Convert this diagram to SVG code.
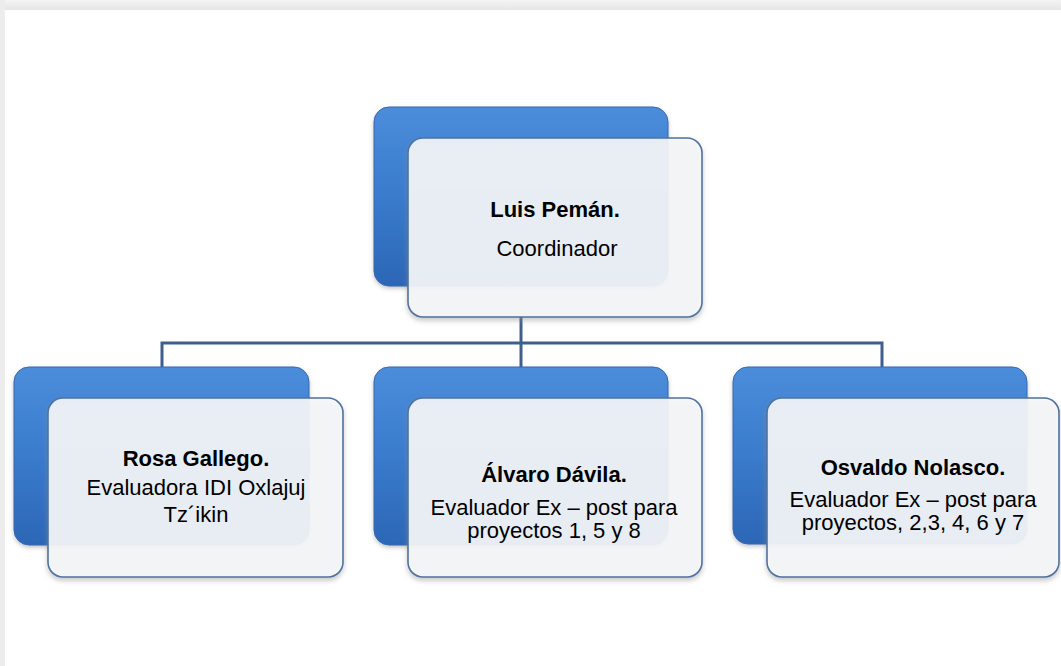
<svg xmlns="http://www.w3.org/2000/svg" width="1061" height="666" viewBox="0 0 1061 666">
  <defs>
    <linearGradient id="blueGrad" x1="0" y1="0" x2="0" y2="1">
      <stop offset="0" stop-color="#4b8ddb"/>
      <stop offset="0.5" stop-color="#3a7bcc"/>
      <stop offset="1" stop-color="#2c66b6"/>
    </linearGradient>
    <linearGradient id="topBand" x1="0" y1="0" x2="0" y2="1">
      <stop offset="0" stop-color="#f4f4f4"/>
      <stop offset="1" stop-color="#e6e6e6"/>
    </linearGradient>
    <filter id="cardShadow" x="-10%" y="-10%" width="120%" height="130%">
      <feDropShadow dx="0" dy="3" stdDeviation="2.5" flood-color="#8a8a8a" flood-opacity="0.5"/>
    </filter>
    <filter id="blueShadow" x="-10%" y="-10%" width="120%" height="130%">
      <feDropShadow dx="0" dy="2" stdDeviation="2" flood-color="#555" flood-opacity="0.35"/>
    </filter>
  </defs>
  <style>
    .blue { fill: url(#blueGrad); stroke: #3568b0; stroke-width: 1; filter: url(#blueShadow); }
    .card { fill: #f6f7f9; fill-opacity: 0.9; stroke: #4f72a0; stroke-width: 1.6; filter: url(#cardShadow); }
    .conn { fill: none; stroke: #3e5f8e; stroke-width: 3; }
    .t { font-family: "Liberation Sans", Arial, sans-serif; font-size: 22px; fill: #000; text-anchor: middle; }
    .b { font-weight: bold; }
  </style>

  <rect x="0" y="0" width="1061" height="666" fill="#ffffff"/>
  <rect x="0" y="0" width="1061" height="10" fill="url(#topBand)"/>
  <rect x="0" y="0" width="5" height="666" fill="#ececec"/>

  <g id="connectors">
    <path class="conn" d="M521 317 V343"/>
    <path class="conn" d="M162 367 V343 H882 V367"/>
    <path class="conn" d="M521 343 V367"/>
  </g>

  <g id="node-luis">
    <rect class="blue" x="374" y="107" width="294" height="179" rx="15"/>
    <rect class="card" x="408" y="138" width="294" height="179" rx="15"/>
    <text class="t b" x="555" y="217">Luis Pemán.</text>
    <text class="t" x="557" y="256">Coordinador</text>
  </g>

  <g id="node-rosa">
    <rect class="blue" x="14" y="367" width="295" height="178" rx="15"/>
    <rect class="card" x="48" y="398" width="295" height="179" rx="15"/>
    <text class="t b" x="196" y="466">Rosa Gallego.</text>
    <text class="t" x="196" y="495">Evaluadora IDI Oxlajuj</text>
    <text class="t" x="196" y="522">Tz´ikin</text>
  </g>

  <g id="node-alvaro">
    <rect class="blue" x="374" y="367" width="294" height="178" rx="15"/>
    <rect class="card" x="408" y="398" width="294" height="179" rx="15"/>
    <text class="t b" x="554" y="482">Álvaro Dávila.</text>
    <text class="t" x="554" y="515">Evaluador Ex – post para</text>
    <text class="t" x="554" y="538">proyectos 1, 5 y 8</text>
  </g>

  <g id="node-osvaldo">
    <rect class="blue" x="733" y="367" width="294" height="177" rx="15"/>
    <rect class="card" x="767" y="398" width="292" height="179" rx="15"/>
    <text class="t b" x="913" y="475">Osvaldo Nolasco.</text>
    <text class="t" x="913" y="507">Evaluador Ex – post para</text>
    <text class="t" x="913" y="530">proyectos, 2,3, 4, 6 y 7</text>
  </g>
</svg>
